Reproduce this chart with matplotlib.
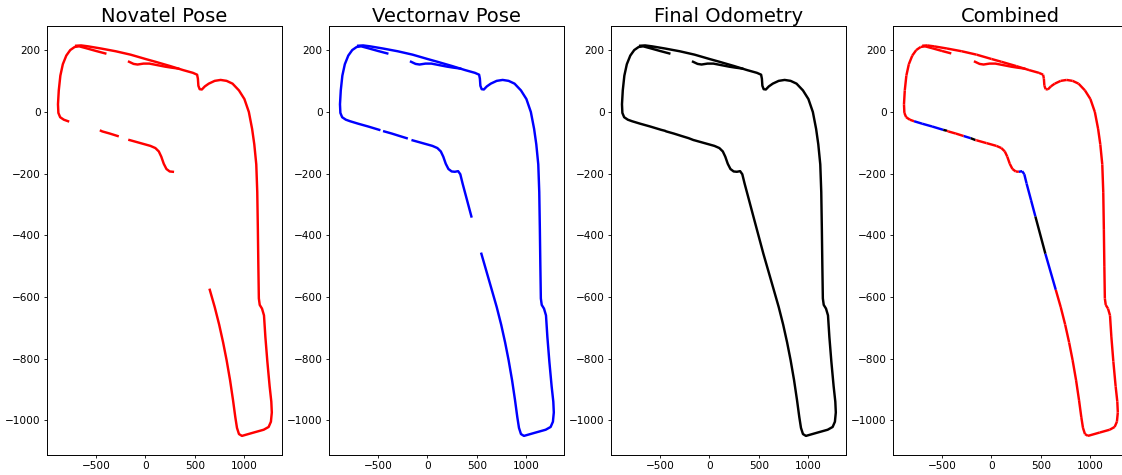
import numpy as np
import matplotlib
matplotlib.use("Agg")
import matplotlib.pyplot as plt

# odometry path (counter-clockwise, starting at the short top-left tail)
odom_x = [-406, -500, -600, -670, -715, -760, -800, -835, -860, -876,
          -884, -880, -862, -825, -782, -700, -600, -487, -450, -437,
          -360, -281, -210, -162, -150, -50, 50, 100, 135, 160,
          185, 212, 245, 277, 310, 332, 355, 400, 444, 545,
          650, 700, 745, 785, 820, 855, 885, 908, 925, 945,
          975, 1095, 1195, 1245, 1268, 1277, 1272, 1255, 1232, 1212,
          1198, 1178, 1155, 1146, 1141, 1136, 1130, 1120, 1100, 1078,
          1045, 1000, 945, 880, 820, 760, 700, 640, 600, 570,
          548, 535, 530, 522, 480, 380, 250, 100, 0, -150,
          -300, -450, -580, -650, -700]
odom_y = [190, 198, 207, 213, 211, 201, 183, 155, 118, 70,
          25, -3, -17, -25, -30, -38, -47, -58, -61, -63,
          -70, -78, -85, -91, -92, -101, -110, -117, -128, -145,
          -168, -185, -193, -194, -192, -202, -232, -286, -339, -460,
          -577, -633, -690, -748, -805, -870, -935, -990, -1025, -1045,
          -1051, -1040, -1031, -1022, -1005, -975, -940, -890, -810, -730,
          -660, -638, -626, -605, -500, -380, -260, -170, -105, -55,
          0, 42, 70, 92, 101, 104, 101, 92, 83, 73,
          74, 85, 108, 121, 127, 136, 149, 163, 172, 186,
          197, 206, 213, 216, 215]

# second short tail on the top line
tail_x = [-166, -120, -80, -20, 40, 120, 200, 260, 330]
tail_y = [163, 156, 154, 157, 157, 152, 147, 144, 141]

# index ranges (start, end) along odom path where each sensor has data
novatel_segs = [(0, 14), (18, 21), (23, 33), (40, 94)]
vectornav_segs = [(0, 17), (19, 22), (24, 38), (39, 94)]

titles = ["Novatel Pose", "Vectornav Pose", "Final Odometry", "Combined"]
xlim = (-995, 1380)
ylim = (-1113, 279)

W, H = 1122, 475
fig = plt.figure(figsize=(W / 100, H / 100), dpi=100)

lw = 1.75
odx = np.array(odom_x, dtype=float)
ody = np.array(odom_y, dtype=float)


def covered(segs, i):
    # edge i -> i+1 has data
    return any(a <= i and i + 1 <= b for a, b in segs)


axes = []
for k in range(4):
    left = (47 + 282 * k) / W
    ax = fig.add_axes([left, 20 / H, 235 / W, 429 / H])
    axes.append(ax)
    ax.set_title(titles[k], fontsize=14, pad=3)
    ax.tick_params(labelsize=7.6, length=2.5, width=0.6, pad=2)
    for s in ax.spines.values():
        s.set_linewidth(0.7)
    ax.set_xlim(*xlim)
    ax.set_ylim(*ylim)
    ax.set_xticks([-500, 0, 500, 1000])
    ax.set_yticks([-1000, -800, -600, -400, -200, 0, 200])

# novatel & vectornav
for ax, segs, col in [(axes[0], novatel_segs, "red"), (axes[1], vectornav_segs, "blue")]:
    for a, b in segs:
        ax.plot(odx[a:b + 1], ody[a:b + 1], color=col, lw=lw)
    ax.plot(tail_x, tail_y, color=col, lw=lw)

# final odometry
axes[2].plot(odx, ody, color="black", lw=lw)
axes[2].plot(tail_x, tail_y, color="black", lw=lw)

# combined: novatel first, then vectornav, then odometry
for i in range(len(odx) - 1):
    if covered(novatel_segs, i):
        c = "red"
    elif covered(vectornav_segs, i):
        c = "blue"
    else:
        c = "black"
    axes[3].plot(odx[i:i + 2], ody[i:i + 2], color=c, lw=lw, solid_capstyle="butt")
axes[3].plot(tail_x, tail_y, color="red", lw=lw)

fig.savefig("out.png", dpi=100)
